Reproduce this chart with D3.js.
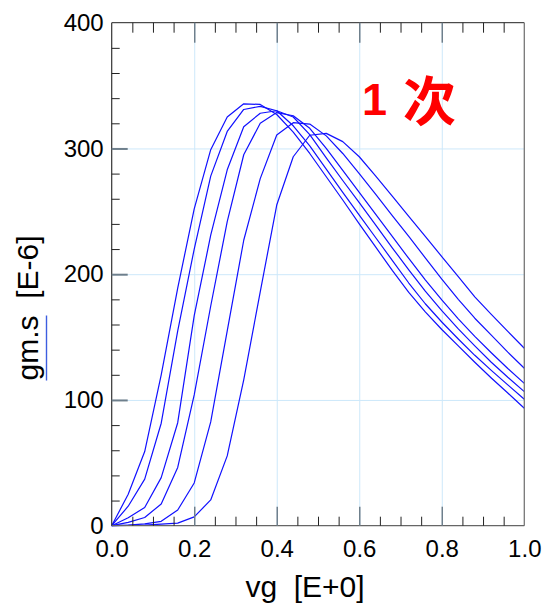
<!DOCTYPE html>
<html><head><meta charset="utf-8">
<script src="https://cdn.jsdelivr.net/npm/d3@7"></script>
<style>body{margin:0;background:#fff}svg{display:block}</style>
</head><body>
<svg id="chart" width="544" height="604"></svg>
<script>
// ---- data ----
const vg = [0,0.04,0.08,0.12,0.16,0.2,0.24,0.28,0.32,0.36,0.4,0.44,0.48,0.52,0.56,0.6,0.64,0.68,0.72,0.76,0.8,0.84,0.88,0.92,0.96,1.0];
const gm1 = [0,25,59,120,189,252,299,325,335.5,335,327,313,296,277.5,259,240,221.5,203,185.5,170,156,143,130,117.5,105.5,93.4];
const gm2 = [0,15.5,37,81.5,155,220,278,313.5,331,333.5,330,318,302,283.5,265,247,229,211,193,176.5,162,148.5,135.5,123.5,112,100.5];
const gm3 = [0,6.3,14.5,38.2,81.9,167,231,283,317.3,328,330,325,311,292.5,274.5,257,239,221,203.5,186.5,171,156.5,143,130,118,106.6];
const gm4 = [0,2.6,6.5,17.3,46.3,104,174.7,241.8,295,320,328.5,326,316,300,282.5,265,247.5,230,212.5,195.5,179.5,164.5,150.5,137.5,125,113.2];
const gm5 = [0,0.5,1.5,3.5,12.5,34,82.5,155,227,276,310.7,320.5,319.4,310,296,280,263.5,246.5,230,213,196,180,165,151.5,138,125.2];
const gm6 = [0,0.2,0.5,1.2,2,7,20.5,55.5,116,186,255,293.4,310.5,312,305.4,293.4,278,262,246,230,214,198,182,168,154.5,141.1];
const seriesList = [gm1, gm2, gm3, gm4, gm5, gm6];

const xLabelTicks = [0,0.2,0.4,0.6,0.8,1.0];
const xMajorTicks = [0.2,0.4,0.6,0.8];
const xMinorTicks = [0.05,0.1,0.15,0.25,0.3,0.35,0.45,0.5,0.55,0.65,0.7,0.75,0.85,0.9,0.95];
const yLabelTicks = [0,100,200,300,400];
const yMajorTicks = [100,200,300];
const yMinorTicks = [20,40,60,80,120,140,160,180,220,240,260,280,320,340,360,380];

const xTitle = "vg  [E+0]";
const yTitleMain = "gm.s";
const yTitleUnit = "  [E-6]";
const annotationNum = "1";
const annotationChar = "次";

// ---- layout ----
const W = 544, H = 604;
const m = {left: 111.7, top: 22.7, right: 19.7, bottom: 78.3};
const iw = W - m.left - m.right, ih = H - m.top - m.bottom;

const svg = d3.select("#chart");
const x = d3.scaleLinear().domain([0, 1]).range([m.left, W - m.right]);
const y = d3.scaleLinear().domain([0, 400]).range([H - m.bottom, m.top]);

const FONT = "'Liberation Sans', Arial, sans-serif";

// gridlines
const gridColor = "#cde8fa";
svg.append("g").attr("transform", `translate(0,${H - m.bottom})`)
  .call(d3.axisBottom(x).tickValues(xMajorTicks).tickSize(-ih).tickFormat(""))
  .call(g => { g.select(".domain").remove(); g.selectAll("line").attr("stroke", gridColor).attr("stroke-width", 1); });
svg.append("g").attr("transform", `translate(${m.left},0)`)
  .call(d3.axisLeft(y).tickValues(yMajorTicks).tickSize(-iw).tickFormat(""))
  .call(g => { g.select(".domain").remove(); g.selectAll("line").attr("stroke", gridColor).attr("stroke-width", 1); });

// curves
const line = d3.line().x((d, i) => x(vg[i])).y(d => y(d));
svg.append("g").selectAll("path").data(seriesList).join("path")
  .attr("d", d => line(d))
  .attr("fill", "none").attr("stroke", "#1010ff").attr("stroke-width", 1.2)
  .attr("stroke-linejoin", "round");

// frame
svg.append("line").attr("x1", m.left).attr("x2", W - m.right).attr("y1", m.top).attr("y2", m.top).attr("stroke", "#222").attr("stroke-width", 1);
svg.append("line").attr("x1", W - m.right).attr("x2", W - m.right).attr("y1", m.top).attr("y2", H - m.bottom).attr("stroke", "#777").attr("stroke-width", 1.3);
svg.append("line").attr("x1", m.left).attr("x2", m.left).attr("y1", m.top).attr("y2", H - m.bottom).attr("stroke", "#333").attr("stroke-width", 1.2);
svg.append("line").attr("x1", m.left).attr("x2", W - m.right).attr("y1", H - m.bottom).attr("y2", H - m.bottom).attr("stroke", "#666").attr("stroke-width", 1.3);

// ticks helpers
function ticks(axisFn, scale, vals, size, color, width, transform) {
  svg.append("g").attr("transform", transform)
    .call(axisFn(scale).tickValues(vals).tickSize(size).tickFormat(""))
    .call(g => { g.select(".domain").remove(); g.selectAll("line").attr("stroke", color).attr("stroke-width", width); });
}
const majorColor = "#6e7f8c";
ticks(d3.axisBottom, x, xMinorTicks, -9, "#222", 1, `translate(0,${H - m.bottom})`);
ticks(d3.axisBottom, x, xMajorTicks, -19, majorColor, 1.5, `translate(0,${H - m.bottom})`);
ticks(d3.axisTop, x, xMinorTicks, -10, "#222", 1, `translate(0,${m.top})`);
ticks(d3.axisTop, x, xMajorTicks, -20, majorColor, 1.5, `translate(0,${m.top})`);
ticks(d3.axisLeft, y, yMinorTicks, -8, "#222", 1, `translate(${m.left},0)`);
ticks(d3.axisLeft, y, yMajorTicks, -16, majorColor, 2, `translate(${m.left},0)`);

// labels
svg.append("g").attr("transform", `translate(0,${H - m.bottom})`)
  .call(d3.axisBottom(x).tickValues(xLabelTicks).tickSize(0).tickPadding(14).tickFormat(d3.format(".1f")))
  .call(g => { g.select(".domain").remove(); g.selectAll("text").attr("font-family", FONT).attr("font-size", 24).attr("fill", "#000"); });
svg.append("g").attr("transform", `translate(${m.left},0)`)
  .call(d3.axisLeft(y).tickValues(yLabelTicks).tickSize(0).tickPadding(8).tickFormat(d3.format("d")))
  .call(g => { g.select(".domain").remove(); g.selectAll("text").attr("font-family", FONT).attr("font-size", 24).attr("fill", "#000"); });

// x title
svg.append("text").attr("x", 305).attr("y", 597).attr("text-anchor", "middle")
  .attr("font-family", FONT).attr("font-size", 30).style("white-space", "pre").attr("fill", "#000")
  .text(xTitle);

// y title (rotated) with underline under main part
const yt = svg.append("g").attr("transform", "translate(38,308) rotate(-90)");
const ytText = yt.append("text").attr("text-anchor", "middle")
  .attr("font-family", FONT).attr("font-size", 30).style("white-space", "pre").attr("fill", "#000");
ytText.append("tspan").text(yTitleMain);
ytText.append("tspan").text(yTitleUnit);
const totalLen = ytText.node().getComputedTextLength();
const mainLen = ytText.node().getSubStringLength(0, yTitleMain.length);
yt.append("line").attr("x1", -totalLen / 2).attr("x2", -totalLen / 2 + mainLen)
  .attr("y1", 8.5).attr("y2", 8.5).attr("stroke", "#3d5ee0").attr("stroke-width", 1.4);

// annotation
const ann = svg.append("text").attr("fill", "#ff0000").attr("font-weight", "bold");
ann.append("tspan").attr("x", 362).attr("y", 115)
  .attr("font-family", FONT).attr("font-size", 45).text(annotationNum);
ann.append("tspan").attr("x", 403).attr("y", 121)
  .attr("font-family", "'Noto Sans CJK SC', sans-serif").attr("font-size", 53).text(annotationChar);
</script>
</body></html>
